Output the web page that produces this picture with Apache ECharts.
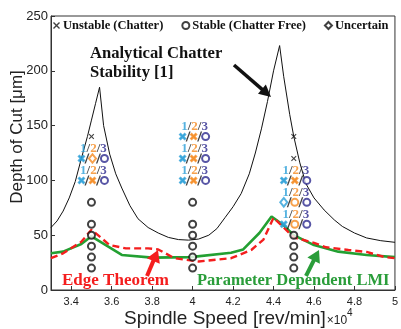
<!DOCTYPE html>
<html><head><meta charset="utf-8">
<script src="https://cdn.jsdelivr.net/npm/echarts@6/dist/echarts.min.js"></script>
<style>html,body{margin:0;padding:0;background:#fff}#c{width:401px;height:329px}</style>
</head><body><div id="c"></div>
<script>
// ---- data ----
const xTicks = [3.4, 3.6, 3.8, 4.0, 4.2, 4.4, 4.6, 4.8, 5.0];
const yTicks = [0, 50, 100, 150, 200, 250];
// analytical chatter stability (black)
const analyticS = [3.30,3.33,3.36,3.39,3.42,3.45,3.48,3.50,3.52,3.54,3.56,3.59,3.62,3.65,3.69,3.73,3.78,3.83,3.88,3.93,3.98,4.03,4.08,4.12,4.16,4.20,4.24,4.28,4.31,4.34,4.37,4.40,4.43,4.45,4.48,4.50,4.53,4.56,4.60,4.65,4.70,4.74,4.80,4.86,4.93,5.00];
const analyticD = [57,63,72,84,99,120,140,155,170,185,150,124,106,93,77,65,57,52,48,46,45.5,46.5,50,56,66,76,88,106,125,147,172,200,223,195,160,140,116,97,84,73,64,58,52,47.5,45,43.5];
// parameter dependent LMI (green)
const lmiS = [3.30,3.36,3.45,3.50,3.65,3.80,3.99,4.19,4.25,4.33,4.39,4.45,4.50,4.60,4.72,4.86,5.00];
const lmiD = [33.5,35,42,49,32,29.5,30,34,37,52,67,59,50,41,35,32,30];
// edge theorem (red dashed)
const edgeS = [3.30,3.36,3.45,3.50,3.59,3.67,3.78,3.83,3.91,4.03,4.19,4.29,4.35,4.40,4.45,4.50,4.60,4.66,4.77,4.86,4.95,5.00];
const edgeD = [29,33.5,44,55,41,38,38,37,29,26,29,36.5,46,66,57,48,43,39,36.5,34.7,30,29];
// experiments
const unstableS = [3.5, 4.5, 4.5];
const unstableD = [140, 140, 120];
const stableS = [3.5,3.5,3.5,3.5,3.5,3.5, 4.0,4.0,4.0,4.0,4.0,4.0, 4.5,4.5,4.5,4.5];
const stableD = [80,60,50,40,30,20, 80,60,50,40,30,20, 50,40,30,20];
// per-model results: x = chatter, o = stable, d = uncertain
const groupS = [3.5, 3.5, 4.0, 4.0, 4.0, 4.5, 4.5, 4.5];
const groupD = [120, 100, 140, 120, 100, 100, 80, 60];
const model1 = ['x','x','x','x','x','x','d','x'];
const model2 = ['d','x','x','x','x','x','o','o'];
const model3 = ['o','o','o','o','o','o','o','o'];

// ---- styles ----
const CROSS = 'path://M0,1.4L1.4,0L5,3.6L8.6,0L10,1.4L6.4,5L10,8.6L8.6,10L5,6.4L1.4,10L0,8.6L3.6,5Z';
const SLASH = 'path://M3.2,0L4.4,0L1.2,10L0,10Z';
const C1 = '#2a9fd8', C2 = '#f58a1f', C3 = '#2d2a8e';
const SERIF = "'Liberation Serif','Times New Roman',serif";
const SANS = "'Liberation Sans',Arial,sans-serif";
function symOf(t){ return t==='x'?CROSS:(t==='o'?'emptyCircle':'emptyDiamond'); }
function sizeOf(t){ return t==='x'?5.5:(t==='o'?7:[7,8.5]); }
function modelSeries(arr, color, dx){
  return {type:'scatter', z:6, symbolOffset:[dx,0], silent:true,
    itemStyle:{color:color, borderColor:color, borderWidth:1.8},
    data: arr.map((t,i)=>({value:[groupS[i],groupD[i]], symbol:symOf(t), symbolSize:sizeOf(t)}))};
}
const pts = (a,b)=>a.map((v,i)=>[v,b[i]]);

const chart = echarts.init(document.getElementById('c'), null, {renderer:'canvas'});

function arrow(x1,y1,x2,y2,color,w,hl,hw){
  const dx=x2-x1, dy=y2-y1, L=Math.hypot(dx,dy), ux=dx/L, uy=dy/L;
  const bx=x2-ux*hl, by=y2-uy*hl, px=-uy*hw, py=ux*hw;
  return [
    {type:'line', shape:{x1:x1,y1:y1,x2:bx+ux*1,y2:by+uy*1}, style:{stroke:color, lineWidth:w}, z:20},
    {type:'polygon', shape:{points:[[x2,y2],[bx+px,by+py],[bx-px,by-py]]}, style:{fill:color}, z:20}
  ];
}

chart.setOption({
  animation:false,
  backgroundColor:'#fff',
  grid:{left:51, right:2, top:16, bottom:39, show:true, borderColor:'#333', borderWidth:1},
  legend:{
    left:53, top:19, itemWidth:7, itemHeight:7, itemGap:18, padding:0,
    data:['Unstable (Chatter)','Stable (Chatter Free)','Uncertain'],
    textStyle:{fontFamily:SERIF, fontWeight:'bold', fontSize:12.5, color:'#111', padding:[0,0,0,-2]},
    selectedMode:false
  },
  xAxis:{type:'value', min:3.3, max:5,
    axisLine:{lineStyle:{color:'#333'}},
    axisTick:{inside:true, length:4, customValues:xTicks, lineStyle:{color:'#333'}},
    splitLine:{show:false},
    axisLabel:{customValues:xTicks, margin:6, fontSize:11, color:'#222',
      fontFamily:"'Liberation Sans Narrow','Liberation Sans',sans-serif",
      formatter:v=>String(+(+v).toFixed(1))}
  },
  yAxis:{type:'value', min:0, max:250, interval:50,
    axisLine:{show:true, lineStyle:{color:'#333'}},
    axisTick:{show:true, inside:true, length:4, lineStyle:{color:'#333'}},
    splitLine:{show:false},
    axisLabel:{margin:3, fontSize:13, color:'#222', fontFamily:SANS,
      customValues:yTicks}
  },
  series:[
    {type:'line', name:'Analytical', data:pts(analyticS,analyticD), showSymbol:false, symbol:'none',
     lineStyle:{color:'#111', width:1}, z:2, silent:true},
    {type:'line', name:'LMI', data:pts(lmiS,lmiD), showSymbol:false, symbol:'none',
     lineStyle:{color:'#23a032', width:2.6}, z:3, silent:true},
    {type:'line', name:'Edge', data:pts(edgeS,edgeD), showSymbol:false, symbol:'none',
     lineStyle:{color:'#f41e1e', width:2.4, type:[7,4]}, z:4, silent:true},
    {type:'scatter', name:'Unstable (Chatter)', data:pts(unstableS,unstableD), symbol:CROSS, symbolSize:5.5,
     itemStyle:{color:'#111'}, z:6, silent:true},
    {type:'scatter', name:'Stable (Chatter Free)', data:pts(stableS,stableD), symbol:'emptyCircle', symbolSize:7,
     itemStyle:{color:'#111', borderColor:'#111', borderWidth:1.8}, z:6, silent:true},
    {type:'scatter', name:'Uncertain', data:[], symbol:'emptyDiamond', symbolSize:[7,8.5],
     itemStyle:{color:'#111', borderColor:'#111', borderWidth:1.8}, z:6, silent:true},
    modelSeries(model1, C1, -10),
    modelSeries(model2, C2, 1),
    modelSeries(model3, C3, 13),
    {type:'scatter', z:6, silent:true, symbol:SLASH, symbolSize:[5,10],
     itemStyle:{color:'#111'},
     data: groupS.flatMap((s,i)=>[
       {value:[s,groupD[i]], symbolOffset:[-4.5,0]},
       {value:[s,groupD[i]], symbolOffset:[7,0]}])},
    {type:'scatter', z:7, silent:true, symbolSize:0, data:pts(groupS,groupD),
     label:{show:true, position:'inside', offset:[2,-10],
       formatter:'{a|1}{s|/}{b|2}{s|/}{c|3}',
       rich:{
         a:{color:C1, fontFamily:SERIF, fontWeight:'bold', fontSize:13},
         b:{color:C2, fontFamily:SERIF, fontWeight:'bold', fontSize:13},
         c:{color:C3, fontFamily:SERIF, fontWeight:'bold', fontSize:13},
         s:{color:'#111', fontFamily:SERIF, fontWeight:'bold', fontSize:13}
       }}}
  ],
  graphic:[
    {type:'text', left:90, top:44, z:20, style:{text:'Analytical Chatter\nStability [1]', fill:'#111',
      font:"bold 16.6px 'Liberation Serif', serif", lineHeight:19}},
    {type:'text', x:62, y:281, z:20, style:{text:'Edge Theorem', fill:'#f41e1e', verticalAlign:'middle',
      font:"bold 17px 'Liberation Serif', serif"}},
    {type:'text', x:197, y:281, z:20, style:{text:'Parameter Dependent LMI', fill:'#2a9d3a', verticalAlign:'middle',
      font:"bold 16.5px 'Liberation Serif', serif"}},
    {type:'text', x:124, y:318, z:20, style:{verticalAlign:'middle',
      text:'{t|Spindle Speed [rev/min]}{m|×10}{p|4}',
      rich:{t:{fontFamily:SANS, fontSize:19, fill:'#222', verticalAlign:'bottom'},
            m:{fontFamily:SANS, fontSize:12, fill:'#222', verticalAlign:'bottom', padding:[0,0,1,1]},
            p:{fontFamily:SANS, fontSize:10, fill:'#222', verticalAlign:'bottom', padding:[0,0,10,0]}}}},
    {type:'text', x:17, y:137, rotation:Math.PI/2, z:20, style:{text:'Depth of Cut [μm]', fill:'#222',
      align:'center', verticalAlign:'middle', font:"17px 'Liberation Sans', Arial, sans-serif"}},
    ...arrow(234,65,271,97,'#111',3.5,12,6),
    ...arrow(147,276,158,250,'#f41e1e',4,12,7),
    ...arrow(306,276,319,250,'#2a9d3a',4,12,7)
  ]
});
</script>
</body></html>
